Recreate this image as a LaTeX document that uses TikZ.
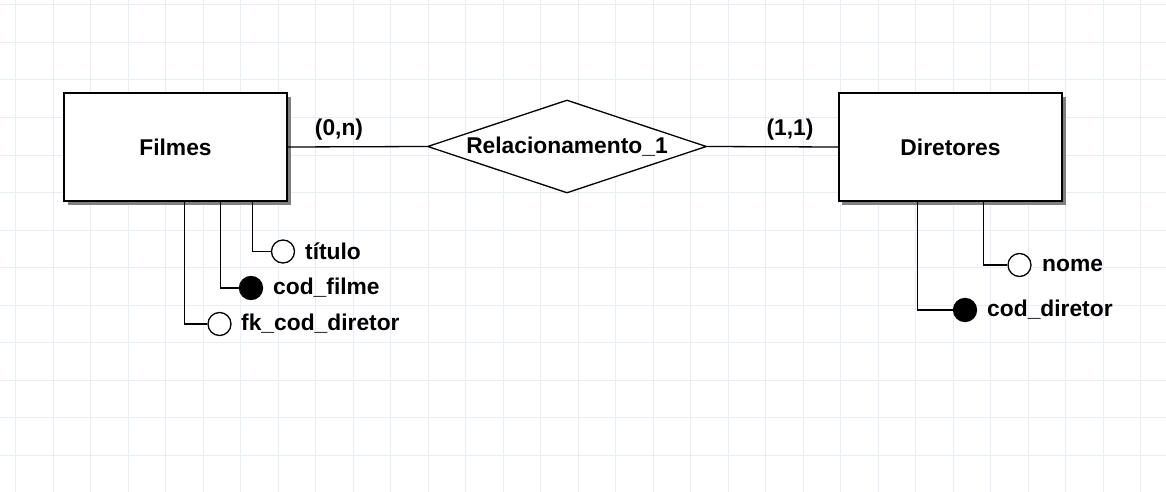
\documentclass[tikz,border=0pt]{standalone}
\usepackage{fontspec}
\setmainfont{Liberation Sans}
\usetikzlibrary{shapes.geometric}
\definecolor{gridc}{HTML}{E6EDF6}
\definecolor{shadowc}{HTML}{808080}
\begin{document}
\begin{tikzpicture}[x=1pt,y=-1pt,
  lbl/.style={font=\fontsize{22.8}{25}\selectfont\bfseries, inner sep=0pt},
  entity/.style={draw=black, line width=1.6pt, fill=white, minimum width=223pt, minimum height=108pt, inner sep=0pt, font=\fontsize{22.8}{25}\selectfont\bfseries},
  rel/.style={draw=black, line width=1.3pt, fill=white, diamond, aspect=3, inner sep=0pt, minimum width=279pt, minimum height=93pt, font=\fontsize{22.8}{25}\selectfont\bfseries},
  conn/.style={draw=black, line width=1.3pt},
  attrO/.style={circle, draw=black, line width=1.3pt, fill=white, minimum size=23pt, inner sep=0pt},
  attrK/.style={circle, draw=black, line width=1.3pt, fill=black, minimum size=23pt, inner sep=0pt}
]
\useasboundingbox (0,0) rectangle (1166,492);
\fill[white] (0,0) rectangle (1166,492);
% grid
\foreach \i in {0,...,30} {\draw[gridc, line width=1pt] (15.5+37.5*\i,0) -- (15.5+37.5*\i,492);}
\foreach \j in {0,...,13} {\draw[gridc, line width=1pt] (0,5+37.5*\j) -- (1166,5+37.5*\j);}

% shadows
\fill[shadowc] (68,97) rectangle (291,205);
\fill[shadowc] (842,97) rectangle (1066,205);

% entities
\node[entity] (filmes) at (175.5,147) {Filmes};
\node[entity] (diretores) at (950.5,147) {Diretores};
\node[rel] (rel) at (567,146.5) {Relacionamento\_1};

\draw[conn] (filmes.east) -- (rel.west);
\draw[conn] (rel.east) -- (diretores.west);
\node[lbl] (card1) at (339,130) {(0,n)};
\node[lbl] (card2) at (790,130) {(1,1)};

% Filmes attributes
\node[attrO] (titulo) at (283,251.5) {};
\node[attrK] (codfilme) at (251,288) {};
\node[attrO] (fkcod) at (219.5,324) {};
\node[lbl, anchor=west] (tituloL) at (305,251.5) {título};
\node[lbl, anchor=west] (codfilmeL) at (273,288) {cod\_filme};
\node[lbl, anchor=west] (fkcodL) at (241,324) {fk\_cod\_diretor};
\coordinate (f1) at (252.5,201.5);
\coordinate (f2) at (220.5,201.5);
\coordinate (f3) at (184.5,201.5);
\draw[conn] (f1) |- (titulo.west);
\draw[conn] (f2) |- (codfilme.west);
\draw[conn] (f3) |- (fkcod.west);

% Diretores attributes
\node[attrO] (nome) at (1019.5,265) {};
\node[attrK] (coddir) at (965,310) {};
\node[lbl, anchor=west] (nomeL) at (1042,265) {nome};
\node[lbl, anchor=west] (coddirL) at (987,310) {cod\_diretor};
\coordinate (d1) at (983.5,201.5);
\coordinate (d2) at (917.5,201.5);
\draw[conn] (d1) |- (nome.west);
\draw[conn] (d2) |- (coddir.west);
\end{tikzpicture}
\end{document}
